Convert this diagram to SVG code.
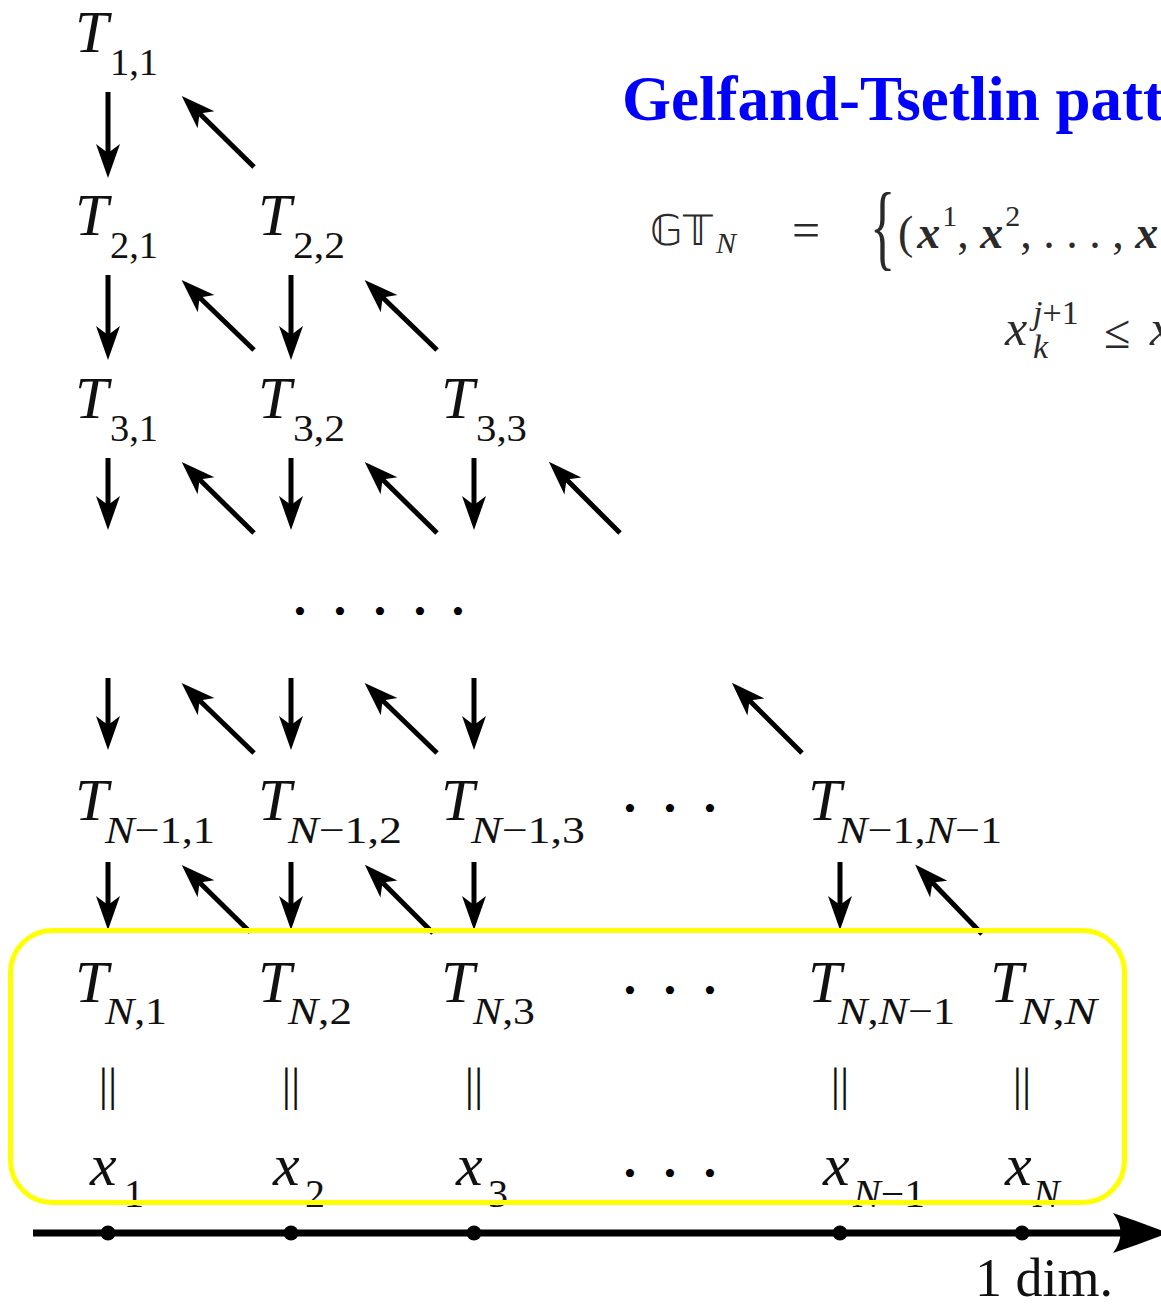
<svg xmlns="http://www.w3.org/2000/svg" width="1161" height="1309" viewBox="0 0 1161 1309">
<style>
.T{font-family:"Liberation Serif",serif;font-style:italic;font-size:60px;fill:#111}
.s{font-family:"Liberation Serif",serif;font-size:38px;fill:#111}
.s .i{font-style:italic}
.xs{font-family:"Liberation Serif",serif;font-size:40px;fill:#111}
.eq{font-family:"Liberation Serif",serif;font-size:46px;fill:#111;text-anchor:middle}
.dots{font-family:"Liberation Serif",serif;font-size:34px;fill:#000;text-anchor:middle}
.arr{stroke:#000;stroke-width:5;fill:none;marker-end:url(#ah)}
.m{font-family:"Liberation Serif",serif;fill:#2a2a2a}
</style>
<defs>
<marker id="ah" markerUnits="userSpaceOnUse" viewBox="-15 -13 37 26" markerWidth="37" markerHeight="26" refX="0" refY="0" orient="auto" overflow="visible">
<path d="M20,0 L-14,-12 L-5,0 L-14,12 Z" fill="#000"/>
</marker>
</defs>
<rect width="1161" height="1309" fill="#fff"/>

<g id="title">
<text x="622" y="120" font-family="Liberation Serif, serif" font-weight="bold" font-size="63" fill="#0000ff">Gelfand-Tsetlin patterns</text>
</g>

<g id="formula">
<text class="m" x="650" y="245" font-family="DejaVu Serif, serif" font-size="42">𝔾𝕋</text>
<text class="m" x="716" y="253" font-size="30" font-style="italic">N</text>
<text class="m" x="792" y="247" font-size="50">=</text>
<text class="m" transform="translate(870,258) scale(0.55,1)" font-size="96">{</text>
<text class="m" x="898" y="248" font-size="46">(<tspan font-weight="bold" font-style="italic" dx="4">x</tspan><tspan font-size="30" dy="-22" dx="2">1</tspan><tspan dy="22">, </tspan><tspan font-weight="bold" font-style="italic">x</tspan><tspan font-size="30" dy="-22" dx="2">2</tspan><tspan dy="22">, . . . , </tspan><tspan font-weight="bold" font-style="italic">x</tspan></text>
<text class="m" x="1005" y="345" font-size="50" font-style="italic">x</text>
<text class="m" x="1033" y="324" font-size="34"><tspan font-style="italic">j</tspan>+1</text>
<text class="m" x="1033" y="358" font-size="34" font-style="italic">k</text>
<text class="m" x="1104" y="348" font-size="48">≤</text>
<text class="m" x="1150" y="345" font-size="50" font-style="italic">x</text>
</g>

<g id="connectors">
<line class="arr" x1="108" y1="92" x2="108" y2="158"/>
<line class="arr" x1="254" y1="167" x2="196" y2="110"/>

<line class="arr" x1="108" y1="275" x2="108" y2="340"/>
<line class="arr" x1="291" y1="275" x2="291" y2="340"/>
<line class="arr" x1="254" y1="350" x2="196" y2="294"/>
<line class="arr" x1="437" y1="350" x2="379" y2="294"/>

<line class="arr" x1="108" y1="458" x2="108" y2="510"/>
<line class="arr" x1="291" y1="458" x2="291" y2="510"/>
<line class="arr" x1="474" y1="458" x2="474" y2="510"/>
<line class="arr" x1="254" y1="533" x2="196" y2="476"/>
<line class="arr" x1="437" y1="533" x2="379" y2="476"/>
<line class="arr" x1="620" y1="533" x2="563" y2="476"/>

<line class="arr" x1="108" y1="678" x2="108" y2="730"/>
<line class="arr" x1="291" y1="678" x2="291" y2="730"/>
<line class="arr" x1="474" y1="678" x2="474" y2="730"/>
<line class="arr" x1="254" y1="753" x2="196" y2="697"/>
<line class="arr" x1="437" y1="753" x2="379" y2="697"/>
<line class="arr" x1="802" y1="753" x2="746" y2="697"/>

<line class="arr" x1="108" y1="862" x2="108" y2="910"/>
<line class="arr" x1="291" y1="862" x2="291" y2="910"/>
<line class="arr" x1="474" y1="862" x2="474" y2="910"/>
<line class="arr" x1="840" y1="862" x2="840" y2="910"/>
<line class="arr" x1="250" y1="932" x2="196" y2="879"/>
<line class="arr" x1="433" y1="933" x2="379" y2="879"/>
<line class="arr" x1="982" y1="934" x2="929" y2="879"/>
</g>

<g id="row1">
<g id="T11"><text class="T" x="75" y="52">T</text><text class="s" x="110" y="75" textLength="48" lengthAdjust="spacingAndGlyphs">1,1</text></g>
</g>
<g id="row2">
<g id="T21"><text class="T" x="75" y="235">T</text><text class="s" x="110" y="258" textLength="48" lengthAdjust="spacingAndGlyphs">2,1</text></g>
<g id="T22"><text class="T" x="258" y="235">T</text><text class="s" x="293" y="258" textLength="52" lengthAdjust="spacingAndGlyphs">2,2</text></g>
</g>
<g id="row3">
<g id="T31"><text class="T" x="75" y="418">T</text><text class="s" x="110" y="441" textLength="48" lengthAdjust="spacingAndGlyphs">3,1</text></g>
<g id="T32"><text class="T" x="258" y="418">T</text><text class="s" x="293" y="441" textLength="52" lengthAdjust="spacingAndGlyphs">3,2</text></g>
<g id="T33"><text class="T" x="441" y="418">T</text><text class="s" x="476" y="441" textLength="51" lengthAdjust="spacingAndGlyphs">3,3</text></g>
</g>
<g id="middots">
<text class="dots" x="300 340 380 420 458" y="623">•••••</text>
</g>
<g id="rowN1">
<g id="TN1_1"><text class="T" x="75" y="820">T</text><text class="s" x="105" y="843" textLength="110" lengthAdjust="spacingAndGlyphs"><tspan class="i">N</tspan>−1,1</text></g>
<g id="TN1_2"><text class="T" x="258" y="820">T</text><text class="s" x="288" y="843" textLength="114" lengthAdjust="spacingAndGlyphs"><tspan class="i">N</tspan>−1,2</text></g>
<g id="TN1_3"><text class="T" x="441" y="820">T</text><text class="s" x="471" y="843" textLength="114" lengthAdjust="spacingAndGlyphs"><tspan class="i">N</tspan>−1,3</text></g>
<text class="dots" x="630 670 710" y="820">•••</text>
<g id="TN1_N1"><text class="T" x="808" y="820">T</text><text class="s" x="838" y="843" textLength="164" lengthAdjust="spacingAndGlyphs"><tspan class="i">N</tspan>−1,<tspan class="i">N</tspan>−1</text></g>
</g>
<g id="rowN">
<g id="TN_1"><text class="T" x="75" y="1002">T</text><text class="s" x="105" y="1024" textLength="62" lengthAdjust="spacingAndGlyphs"><tspan class="i">N</tspan>,1</text></g>
<g id="TN_2"><text class="T" x="258" y="1002">T</text><text class="s" x="288" y="1024" textLength="64" lengthAdjust="spacingAndGlyphs"><tspan class="i">N</tspan>,2</text></g>
<g id="TN_3"><text class="T" x="441" y="1002">T</text><text class="s" x="473" y="1024" textLength="62" lengthAdjust="spacingAndGlyphs"><tspan class="i">N</tspan>,3</text></g>
<text class="dots" x="630 670 710" y="1002">•••</text>
<g id="TN_N1"><text class="T" x="808" y="1002">T</text><text class="s" x="838" y="1024" textLength="117" lengthAdjust="spacingAndGlyphs"><tspan class="i">N</tspan>,<tspan class="i">N</tspan>−1</text></g>
<g id="TN_N"><text class="T" x="990" y="1002">T</text><text class="s" x="1020" y="1024" textLength="77" lengthAdjust="spacingAndGlyphs"><tspan class="i">N</tspan>,<tspan class="i">N</tspan></text></g>
</g>
<g id="equals">
<text class="eq" x="108" y="1100">||</text>
<text class="eq" x="291" y="1100">||</text>
<text class="eq" x="474" y="1100">||</text>
<text class="eq" x="840" y="1100">||</text>
<text class="eq" x="1022" y="1100">||</text>
</g>
<g id="xrow">
<g id="x1"><text class="T" x="90" y="1185">x</text><text class="xs" x="124" y="1207">1</text></g>
<g id="x2"><text class="T" x="273" y="1185">x</text><text class="xs" x="305" y="1207">2</text></g>
<g id="x3"><text class="T" x="456" y="1185">x</text><text class="xs" x="488" y="1207">3</text></g>
<text class="dots" x="630 670 710" y="1185">•••</text>
<g id="xN1"><text class="T" x="823" y="1185">x</text><text class="xs" x="853" y="1207" textLength="72" lengthAdjust="spacingAndGlyphs"><tspan font-style="italic">N</tspan>−1</text></g>
<g id="xN"><text class="T" x="1005" y="1185">x</text><text class="xs" x="1033" y="1207" font-style="italic">N</text></g>
</g>

<g id="highlight">
<rect x="10.5" y="930.5" width="1114" height="272" rx="42" ry="42" fill="none" stroke="#ffff00" stroke-width="5"/>
</g>

<g id="axis">
<line x1="33" y1="1233" x2="1130" y2="1233" stroke="#000" stroke-width="7"/>
<path d="M1168,1233 Q1140,1222 1113,1213 Q1128,1233 1113,1253 Q1140,1244 1168,1233 Z" fill="#000"/>
<circle cx="108" cy="1233" r="7.5" fill="#000"/>
<circle cx="291" cy="1233" r="7.5" fill="#000"/>
<circle cx="474" cy="1233" r="7.5" fill="#000"/>
<circle cx="840" cy="1233" r="7.5" fill="#000"/>
<circle cx="1022" cy="1233" r="7.5" fill="#000"/>
<text x="975" y="1296" font-family="Liberation Serif, serif" font-size="54" fill="#111">1 dim.</text>
</g>
</svg>
